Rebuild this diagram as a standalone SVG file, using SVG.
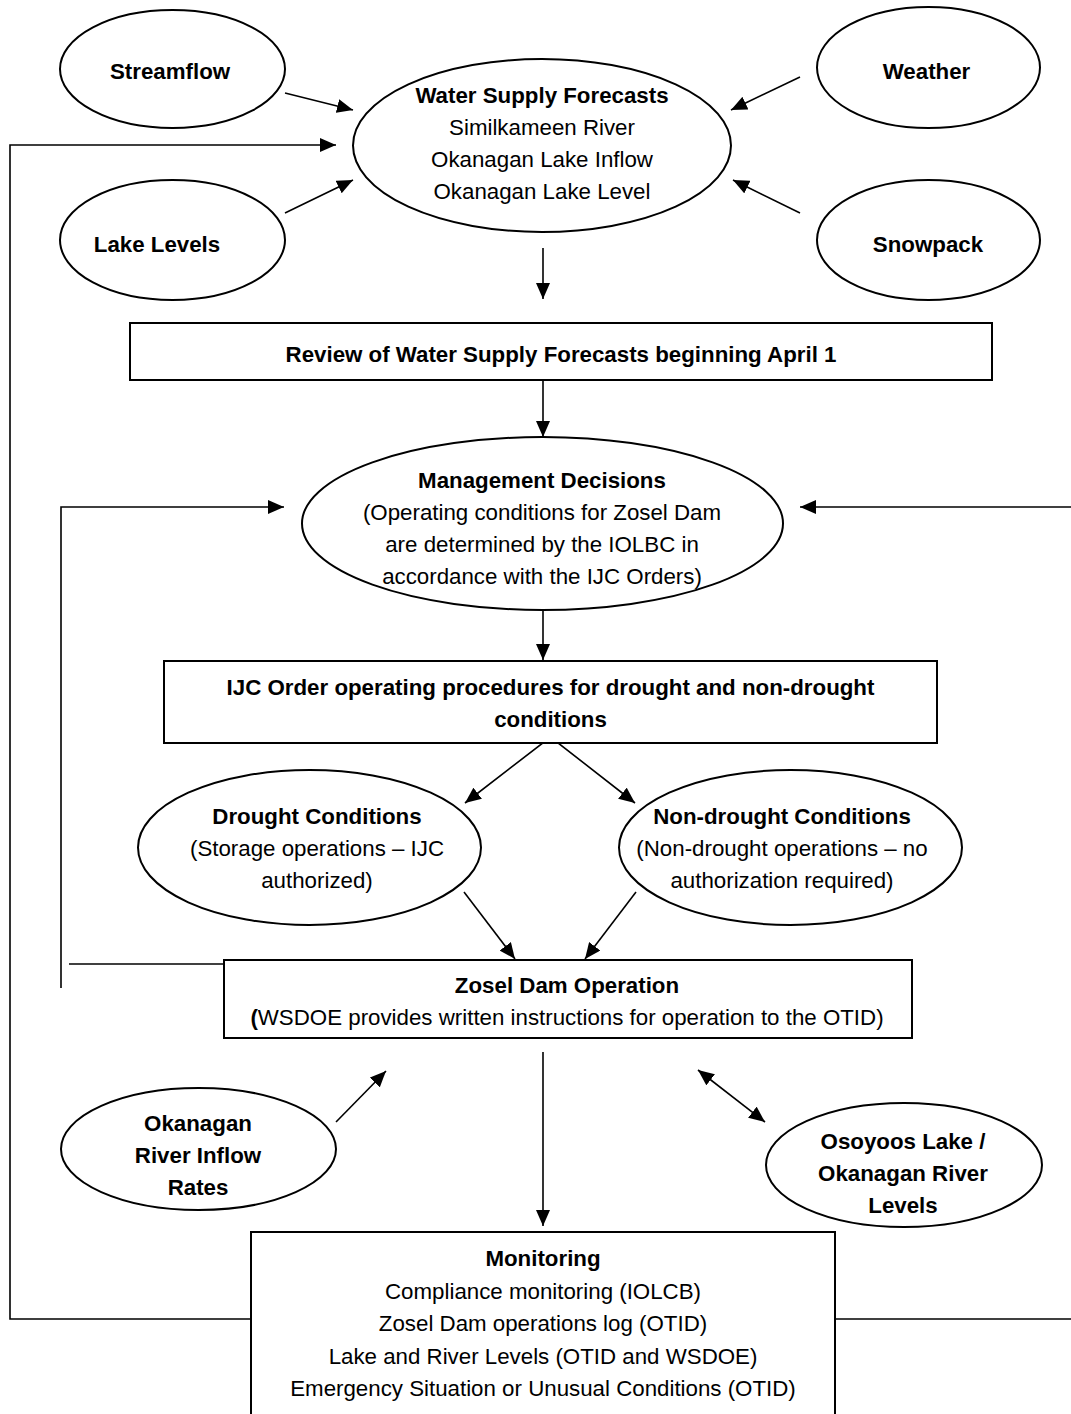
<svg xmlns="http://www.w3.org/2000/svg" width="1071" height="1414" viewBox="0 0 1071 1414">
<style>
.shape{fill:#fff;stroke:#000;stroke-width:2}
.c{fill:none;stroke:#000;stroke-width:1.6}
text{font-family:"Liberation Sans",Arial,sans-serif;font-size:22.3px;fill:#000;text-anchor:middle}
.b{font-weight:bold}
</style>
<defs>
<marker id="ah" markerUnits="userSpaceOnUse" markerWidth="16" markerHeight="14" refX="16" refY="7" orient="auto-start-reverse">
<path d="M0,0 L16,7 L0,14 z" fill="#000"/>
</marker>
</defs>
<rect width="1071" height="1414" fill="#fff"/>

<g id="connectors">
<line class="c" x1="285" y1="93" x2="353" y2="110" marker-end="url(#ah)"/>
<line class="c" x1="285" y1="213" x2="353" y2="180" marker-end="url(#ah)"/>
<line class="c" x1="800" y1="77" x2="731" y2="110" marker-end="url(#ah)"/>
<line class="c" x1="800" y1="213" x2="733" y2="180" marker-end="url(#ah)"/>
<line class="c" x1="543" y1="248" x2="543" y2="299" marker-end="url(#ah)"/>
<line class="c" x1="543" y1="380" x2="543" y2="437" marker-end="url(#ah)"/>
<line class="c" x1="543" y1="610" x2="543" y2="660" marker-end="url(#ah)"/>
<polyline class="c" points="465,803 550.5,737 635,803" marker-start="url(#ah)" marker-end="url(#ah)"/>
<line class="c" x1="464" y1="892" x2="515" y2="959" marker-end="url(#ah)"/>
<line class="c" x1="636" y1="892" x2="585" y2="959" marker-end="url(#ah)"/>
<line class="c" x1="543" y1="1052" x2="543" y2="1226" marker-end="url(#ah)"/>
<line class="c" x1="336" y1="1122" x2="386" y2="1071" marker-end="url(#ah)"/>
<line class="c" x1="698" y1="1070" x2="765" y2="1122" marker-start="url(#ah)" marker-end="url(#ah)"/>
<polyline class="c" points="251,1319 10,1319 10,145 336,145" marker-end="url(#ah)"/>
<line class="c" x1="835" y1="1319" x2="1071" y2="1319"/>
<polyline class="c" points="61,988 61,507 284,507" marker-end="url(#ah)"/>
<line class="c" x1="69" y1="964" x2="224" y2="964"/>
<line class="c" x1="1071" y1="507" x2="800" y2="507" marker-end="url(#ah)"/>
</g>

<g id="streamflow">
<ellipse class="shape" cx="172.5" cy="69" rx="112.5" ry="59"/>
<text class="b" x="170" y="79">Streamflow</text>
</g>
<g id="lake-levels">
<ellipse class="shape" cx="172.5" cy="240" rx="112.5" ry="60"/>
<text class="b" x="157" y="252">Lake Levels</text>
</g>
<g id="weather">
<ellipse class="shape" cx="928.5" cy="67.5" rx="111.5" ry="60.5"/>
<text class="b" x="926.5" y="79">Weather</text>
</g>
<g id="snowpack">
<ellipse class="shape" cx="928.5" cy="240" rx="111.5" ry="60"/>
<text class="b" x="928" y="252">Snowpack</text>
</g>
<g id="water-supply-forecasts">
<ellipse class="shape" cx="542" cy="145.5" rx="189" ry="86.5"/>
<text class="b" x="542" y="103">Water Supply Forecasts</text>
<text x="542" y="135">Similkameen River</text>
<text x="542" y="167">Okanagan Lake Inflow</text>
<text x="542" y="199">Okanagan Lake Level</text>
</g>
<g id="review">
<rect class="shape" x="130" y="323" width="862" height="57"/>
<text class="b" x="561" y="362">Review of Water Supply Forecasts beginning April 1</text>
</g>
<g id="management-decisions">
<ellipse class="shape" cx="542.5" cy="523.5" rx="240.5" ry="86.5"/>
<text class="b" x="542" y="488">Management Decisions</text>
<text x="542" y="520">(Operating conditions for Zosel Dam</text>
<text x="542" y="552">are determined by the IOLBC in</text>
<text x="542" y="584">accordance with the IJC Orders)</text>
</g>
<g id="ijc-order">
<rect class="shape" x="164" y="661" width="773" height="82"/>
<text class="b" x="550.5" y="695">IJC Order operating procedures for drought and non-drought</text>
<text class="b" x="550.5" y="727">conditions</text>
</g>
<g id="drought">
<ellipse class="shape" cx="309.5" cy="847.5" rx="171.5" ry="77.5"/>
<text class="b" x="317" y="824">Drought Conditions</text>
<text x="317" y="856">(Storage operations – IJC</text>
<text x="317" y="888">authorized)</text>
</g>
<g id="non-drought">
<ellipse class="shape" cx="790.5" cy="847.5" rx="171.5" ry="77.5"/>
<text class="b" x="782" y="824">Non-drought Conditions</text>
<text x="782" y="856">(Non-drought operations – no</text>
<text x="782" y="888">authorization required)</text>
</g>
<g id="zosel-dam-operation">
<rect class="shape" x="224" y="960" width="688" height="78"/>
<text class="b" x="567" y="993">Zosel Dam Operation</text>
<text x="567" y="1025"><tspan class="b">(</tspan>WSDOE provides written instructions for operation to the OTID)</text>
</g>
<g id="okanagan-inflow">
<ellipse class="shape" cx="198.5" cy="1149" rx="137.5" ry="61"/>
<text class="b" x="198" y="1131">Okanagan</text>
<text class="b" x="198" y="1163">River Inflow</text>
<text class="b" x="198" y="1195">Rates</text>
</g>
<g id="osoyoos">
<ellipse class="shape" cx="904" cy="1165" rx="138" ry="62"/>
<text class="b" x="903" y="1149">Osoyoos Lake /</text>
<text class="b" x="903" y="1181">Okanagan River</text>
<text class="b" x="903" y="1213">Levels</text>
</g>
<g id="monitoring">
<rect class="shape" x="251" y="1232" width="584" height="200"/>
<text class="b" x="543" y="1266">Monitoring</text>
<text x="543" y="1299">Compliance monitoring (IOLCB)</text>
<text x="543" y="1331">Zosel Dam operations log (OTID)</text>
<text x="543" y="1364">Lake and River Levels (OTID and WSDOE)</text>
<text x="543" y="1396">Emergency Situation or Unusual Conditions (OTID)</text>
</g>
</svg>
